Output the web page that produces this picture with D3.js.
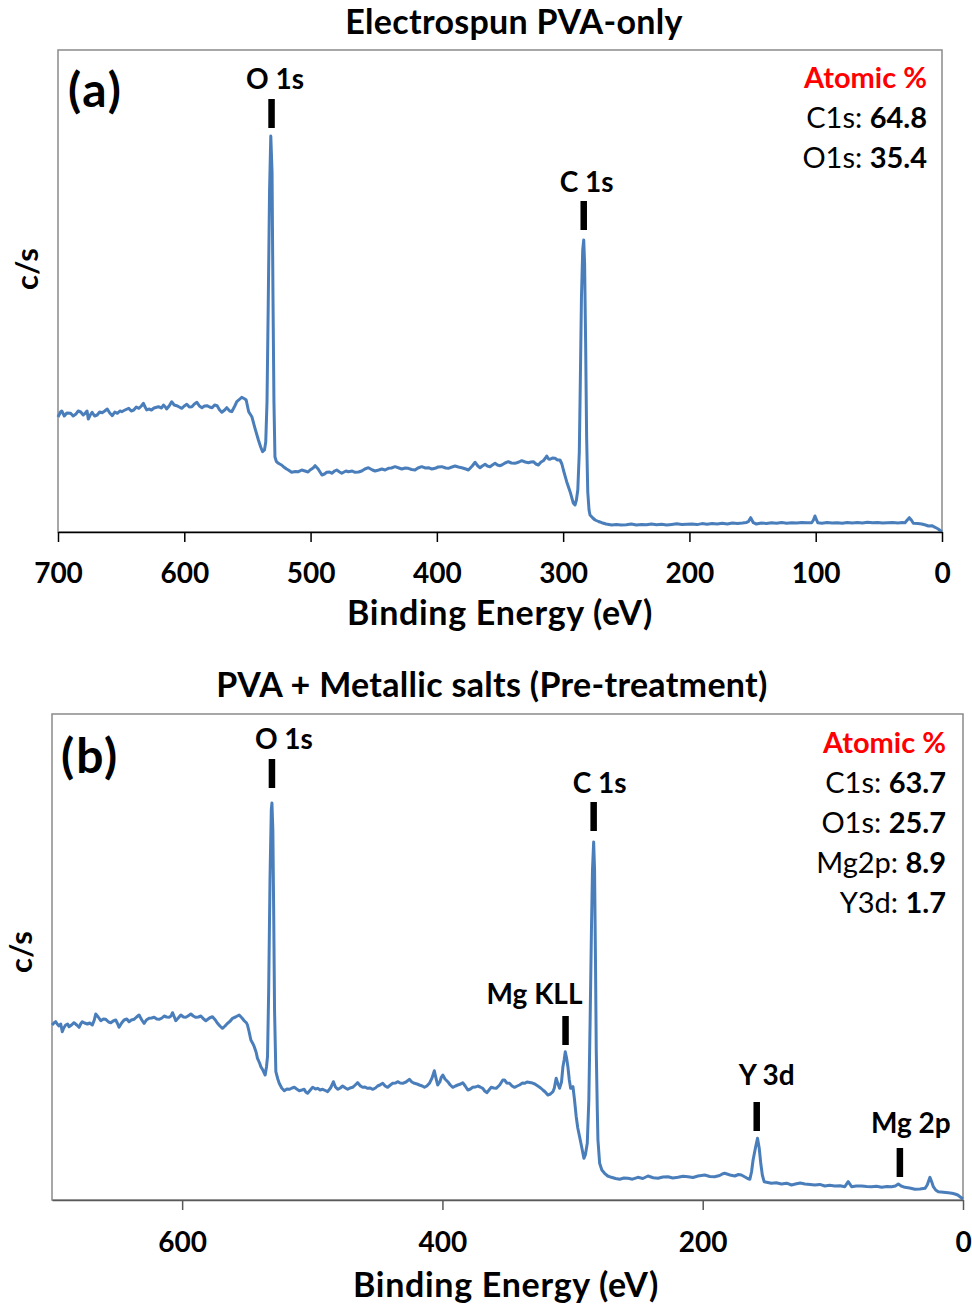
<!DOCTYPE html>
<html>
<head>
<meta charset="utf-8">
<script src="https://cdn.jsdelivr.net/npm/d3@7"></script>
<style>
  html, body { margin: 0; background: #fff; }
  text { font-family: Lato, "Open Sans", sans-serif; }
</style>
</head>
<body>
<svg id="fig" width="972" height="1309"></svg>
<script>
// ---- Survey spectrum, electrospun PVA only: [binding energy (eV), counts (arb.)]
const pvaSpectrum = [
  [700,115],[698,120],[697,121],[695,116],[693,119],[690,118.7],[688,116],[686,117.7],[684,121],[682,120],
  [680,117],[678.5,118.7],[677,121],[676,113],[674.5,117],[673,119.7],[671,116],[669,117],[667,120],[665,119.3],
  [663,121],[661,123],[659,119],[657,116.3],[655,120],[653,118.7],[651,121],[649.5,120.3],[647,122],[644,123.7],
  [642,121],[640,122],[638,125],[636,123.7],[634,126],[632.4,128.7],[631,125],[629.7,122],[628,123],[626,122],
  [624,124],[620.5,125.3],[618,124],[616.5,127],[615,125],[614,123],[612,126],[610,130.3],[608,127],[606,126.3],
  [604,125],[602,123.7],[600,126],[598,127.7],[596,125],[594,125.3],[592,128],[590,129.7],[588,126],[586,124.3],
  [584,126],[582,126.3],[580,125],[578,124.3],[576,127],[574,126.3],[572,122],[570.3,119.7],[568,122],[566.4,124.3],
  [564,121],[562.4,120.3],[560,126],[558.4,130.3],[556,133],[554.5,134.7],[552,133],[551,132],[549,120.3],[546.5,115.3],
  [544,103.7],[541.3,92],[539.5,85],[538,80.3],[536.5,82],[535.5,90],[534.5,130],[533.5,230],[532.5,340],[531.5,396],
  [530.5,360],[529.8,240],[529,130],[528.2,75],[527,70.3],[525.5,68.7],[523,67],[521.5,65.3],[519,63],[517.6,62],
  [515,59.7],[512,60.5],[509.6,60.3],[507,62],[504.4,61],[502,60],[500.4,62],[498,64],[496.4,66.3],[494,63],
  [492.5,60],[491,57],[489,58],[487.2,59.7],[485,60],[483.2,58.7],[481,61],[479.3,62],[477,60],[475.3,58.7],
  [472,61],[470,60.3],[467,61],[464.8,59.7],[462,60],[459.5,61],[457,63],[454.2,64.3],[451,62],[448.9,61],
  [446,62],[443.6,63],[441,62],[438.4,63.7],[436,64],[433.1,65.3],[430,64],[427.8,63],[425,64],[422.6,63.7],
  [420,62.5],[417.3,62],[415,64],[412,65.3],[409,64],[406.7,64.3],[404,63],[401.4,63.7],[399,65],[396.1,65.3],
  [393,64],[390.9,63.7],[388,65],[385.6,66],[383,65],[380.3,64.3],[377,63],[375,62],[372,66],[369.7,69.7],
  [367.5,66],[365.8,64.3],[364,66],[361.8,67.7],[360,66],[357.9,65.3],[356,67],[353.9,68.7],[352,67],[349.9,66.3],
  [348.6,67],[346,69],[343.4,70.3],[341,69],[338.1,68.7],[335,70],[332.8,71.3],[330,70],[327.5,69.3],[325.5,70],
  [323.6,70.3],[321.5,68],[319.6,67],[317.5,70],[315.7,71.3],[314,74],[313,76],[311.5,73],[310.4,72.7],[308.5,74],
  [306.4,73.7],[304.5,72],[302.5,72],[301,68],[299.8,62],[297.2,50.3],[294.5,40.3],[291.9,28.7],[290.6,27],[289.5,32],
  [288.4,42],[287.2,80],[286.4,150],[285.5,235],[284.5,282],[283.7,292],[283,268],[282.2,190],[281.4,95],[280.5,40],
  [279.5,22],[278.7,17],[276.5,14],[274.7,12],[272,10.5],[269.4,9.3],[266,8],[261.5,7],[258,7.5],[254,7],
  [250,7.3],[246,8],[242,7],[238,7.5],[234,7.2],[230,8],[226,7.3],[222,7.8],[218,7],[214,7.6],
  [210,8.2],[206,7.5],[202,7.8],[198,8],[194,7.4],[190,8.4],[186,7.8],[182,8.5],[178,8],[174,8.8],
  [170,8],[166,9],[162,8.5],[158,9],[155,9.5],[153.4,10.3],[151.5,14.3],[149.4,9.3],[147,8],[143,9],
  [139,8.5],[135,9.2],[131,8.7],[127,9.5],[123,8.8],[119,9.3],[115,9],[111,9.6],[107,9.2],[103.2,9.3],
  [101.8,12],[100.6,16],[99.3,12],[98.4,9.3],[95,8.8],[91,9.5],[87,9],[83,9.3],[79,8.7],[75,9.6],
  [71,9],[67,9.4],[63,9],[59,9.8],[55,9.2],[51,9.5],[47,8.9],[43,9.3],[39,9.6],[35,9],
  [31.5,9.4],[29.3,9.3],[27.5,12],[25.9,14.3],[24.3,12],[22.7,8.7],[19,8.5],[16.1,8],[13,7],[10.8,6],
  [8,6.3],[5.5,4.7],[3,3],[1,1],[0,0]
];

// ---- Survey spectrum, PVA + metallic salts (pre-treatment)
const saltSpectrum = [
  [700,175],[698.5,177],[697.2,178.3],[696,176],[694.6,174],[693.3,176],[692.1,168.3],[691,172],[689.5,175],[688,176],
  [686.9,173.3],[685,175],[683.1,177.3],[681,175],[679.2,172.7],[678,176],[676.7,178.3],[675,177],[672.8,176],[671,177],
  [669,175],[667.5,180],[666.4,186],[664.5,183],[662.5,179.3],[660.5,181],[658.7,180.7],[656.5,178],[654.8,177.3],[653,179],
  [651,180],[649.5,176],[648.5,172.7],[646.5,177],[644.6,180],[642.5,181],[640.8,178.3],[639,180],[637,180.7],[635,183],
  [633.1,185],[631,180],[629.2,176.7],[627.5,180],[625.4,181.7],[623.5,182],[621.5,182.7],[619.5,181],[617.7,180.7],[615.5,182],
  [613.8,184],[612,183],[610,182.7],[608.5,184],[607.4,187.3],[606,183],[604.9,179.3],[603,182],[601,185],[599,183],
  [597.2,182.7],[595.5,184],[593.3,186],[591.5,184],[589.5,182.7],[587.5,183],[585.6,184],[583.5,181],[581.8,179.3],[579,182],
  [576.7,183.3],[574.5,180],[572.8,176.7],[571,174],[569,171.7],[567,174],[565.1,176.7],[563,179],[561.3,181.7],[559,183],
  [556.2,185],[554,182],[552.3,179.3],[550.5,177],[549.8,175],[548.5,168],[547.2,160],[545.5,156],[544.6,153.3],[543.2,148],
  [542.1,141.7],[540.5,137],[539.5,133.3],[538,130],[536.2,125],[535.2,133],[534.4,143.3],[533.5,210],[532.5,320],[531.5,390],
  [531,397],[530.3,370],[529.6,280],[529,190],[528,128.3],[526.5,121],[525.4,116.7],[523.5,112],[521.5,109.3],[519.5,111],
  [517.7,110.7],[515.5,112],[513.8,112.7],[512,111],[510,109.3],[508,110],[506.2,110.7],[505,108],[503.6,106.7],[501.5,110],
  [499.7,112.7],[497.5,111],[495.9,111.7],[494,110],[492,110.7],[490,109.5],[488.2,108.3],[486,112],[484.5,116],[483.8,118.3],
  [482.2,113],[480.5,110.7],[478.5,112],[476.7,114],[474.5,112],[472.8,110.7],[471,112],[469,112.7],[467,115],[465.1,117.3],
  [463,114],[461.3,112.7],[459.5,113],[457.5,111.7],[455.5,112],[453.6,110.7],[451.5,112],[449.8,114],[448,115],[445.9,116.7],
  [444,114],[442.1,112.7],[440,115],[438.2,116.7],[436,117],[434.4,118.3],[432.5,117],[430.5,116.7],[428,118],[425.4,120.7],
  [423.5,118],[421.5,116.7],[419.5,116],[417.7,115],[415.5,114],[413.8,112.7],[412,114],[410,116.7],[408,122],[406.2,129.3],
  [405,122],[403.6,115],[402,118],[400.8,123],[399.7,125],[398,121],[395.9,118.3],[394,115],[392,112.7],[390,114],
  [388.2,115],[386,116],[384.4,117.3],[382.5,114],[380.5,110],[378.5,111],[376.7,112.7],[374.5,113],[372.8,114],[371,113],
  [369,111.7],[367.5,109],[365.9,107.3],[364.2,110],[362.6,112.7],[360.5,112],[358.7,111.7],[356,115],[353.6,120],[352.3,120],
  [350.5,117],[348.5,116.7],[346.5,114],[344.6,112.7],[342.5,114],[340.8,115],[338.5,117],[336.9,116.7],[335,118],[331.8,117.3],
  [329,116],[326.7,114],[324.5,112],[322.8,110],[321,108],[319,105],[317,106],[315.1,108.3],[314,112],[312.6,121.7],
  [311.2,116],[310,111.7],[308.5,118],[307.4,133.3],[306.5,140],[305.6,148.3],[304.6,142],[303.6,133.3],[302.5,120],[301.5,111.7],
  [300.5,112],[299.7,113.3],[298.5,100],[297.2,83.3],[296,72],[294.6,63.3],[293,53],[291.3,41.7],[290.2,45],[288.7,56.7],
  [287.5,100],[286.5,180],[285.5,270],[284.7,330],[283.8,358],[283.1,330],[282.4,240],[281.8,150],[281,90],[280.5,60],
  [279.2,36.7],[277.5,30],[275.4,26.7],[273,24],[270.2,22.7],[267,21.5],[263.8,20.7],[260.5,22],[257.4,21.7],[254,20.8],
  [249.8,22.7],[246,21.5],[242.1,24],[238,22.3],[234.4,21.7],[230.5,23],[226.7,23.3],[223,22],[219,22.7],[215,23.8],
  [211.3,23.3],[207.5,22.5],[203.6,24],[201,24.5],[198.5,25],[194.5,23.5],[190.8,23.3],[187,24.5],[185,26],[183.1,26.7],
  [179,25],[175.4,24],[172.5,25.5],[170.3,25],[167.5,23],[165.5,21.5],[163.8,20.7],[162.5,28],[161.3,40],[159.5,52],
  [157.9,61.7],[156.6,52],[155.4,36.7],[154.2,25],[152.8,18.3],[150,17.5],[147.2,16.7],[143.5,17.2],[139.5,16],[135.5,16.8],
  [131.8,15],[128,16.2],[125,17],[121.5,16],[117.5,15.5],[113.8,15],[110,15.6],[106.2,14],[102.5,14.8],[98.5,14],
  [94.5,14.3],[90.8,13.3],[88.2,18.3],[85.6,13.3],[82,14],[77.9,14],[74,13.5],[70.2,13.3],[66.5,13.8],[62.5,12.7],
  [58.5,13.5],[54.8,13.3],[52,14],[49.7,16],[47.5,14],[44.6,12.7],[41,12],[36.9,10.7],[33,11],[29.2,11.7],
  [27.5,15],[25.4,22.7],[24,18],[22.8,13.3],[21,10],[19,8.3],[15,7.8],[11.3,7.3],[8.5,6.8],[6.2,6],
  [4,5],[2.3,3.3],[0,1]
];

// ---- Axis ticks and text
const pvaTicks = [700, 600, 500, 400, 300, 200, 100, 0];
const saltTicks = [600, 400, 200, 0];
const panelTitles = ["Electrospun PVA-only", "PVA + Metallic salts (Pre-treatment)"];
const panelTags = ["(a)", "(b)"];
const xAxisTitle = "Binding Energy (eV)";
const yAxisTitle = "c/s";
const atomicHeading = "Atomic %";

// ---- Peak assignments: label, binding energy (eV), counts level at the foot of the marker
const pvaPeaks = [
  { label: "O 1s", energy: 530.9, level: 404 },
  { label: "C 1s", energy: 283.7, level: 302 }
];
const saltPeaks = [
  { label: "O 1s",   energy: 531.0, level: 412 },
  { label: "C 1s",   energy: 283.8, level: 369 },
  { label: "Mg KLL", energy: 305.4, level: 155 },
  { label: "Y 3d",   energy: 158.5, level: 69 },
  { label: "Mg 2p",  energy: 48.5,  level: 23 }
];

// ---- Surface composition (atomic %)
const pvaAtomic = [["C1s", "64.8"], ["O1s", "35.4"]];
const saltAtomic = [["C1s", "63.7"], ["O1s", "25.7"], ["Mg2p", "8.9"], ["Y3d", "1.7"]];

// ---- Layout of each panel (pixels)
const panels = [
  {
    spectrum: pvaSpectrum, ticks: pvaTicks, peaks: pvaPeaks, atomic: pvaAtomic,
    title: panelTitles[0], tag: panelTags[0],
    left: 58, right: 942, top: 50, bottom: 532, countsMax: 482,
    titleX: 514, titleY: 34, tagX: 68, tagY: 107, yTitleX: 38, yTitleY: 269,
    xTitleX: 500, xTitleY: 625, tickLabelOffset: 51,
    atomicX: 927, atomicY: 88, axisColor: "#000",
    labelDx: [3.5, 3], labelGap: [10, 9]
  },
  {
    spectrum: saltSpectrum, ticks: saltTicks, peaks: saltPeaks, atomic: saltAtomic,
    title: panelTitles[1], tag: panelTags[1],
    left: 52, right: 963, top: 714, bottom: 1200, countsMax: 486,
    titleX: 492, titleY: 697, tagX: 61, tagY: 773, yTitleX: 32, yTitleY: 952,
    xTitleX: 506, xTitleY: 1297, tickLabelOffset: 52,
    atomicX: 946, atomicY: 753, axisColor: "#595959",
    labelDx: [12, 6, -31, 10, 11], labelGap: [10, 9, 12, 17, 15]
  }
];

const svg = d3.select("#fig");
const lineColor = "#4a7ebb";
const frameColor = "#8a8a8a";

panels.forEach((p, i) => {
  const g = svg.append("g").attr("class", "panel-" + i);

  const x = d3.scaleLinear().domain([700, 0]).range([p.left, p.right]);
  const y = d3.scaleLinear().domain([0, p.countsMax]).range([p.bottom, p.top]);

  // plot frame
  g.append("rect")
    .attr("x", p.left).attr("y", p.top)
    .attr("width", p.right - p.left).attr("height", p.bottom - p.top)
    .attr("fill", "none").attr("stroke", frameColor).attr("stroke-width", 1.5);

  // spectrum trace
  const line = d3.line().x(d => x(d[0])).y(d => y(d[1]));
  g.append("path")
    .datum(p.spectrum)
    .attr("d", line)
    .attr("fill", "none")
    .attr("stroke", lineColor)
    .attr("stroke-width", 3)
    .attr("stroke-linejoin", "round");

  // x axis
  const axis = d3.axisBottom(x).tickValues(p.ticks).tickSize(10).tickSizeOuter(0).tickFormat(d3.format("d"));
  const ax = g.append("g").attr("transform", `translate(0,${p.bottom})`).call(axis);
  ax.select(".domain").attr("stroke", p.axisColor).attr("stroke-width", 1.5);
  ax.selectAll(".tick line").attr("stroke", p.axisColor).attr("stroke-width", 1.5);
  ax.selectAll(".tick text")
    .attr("y", p.tickLabelOffset).attr("dy", null)
    .attr("fill", "#000")
    .style("font-family", "Lato, 'Open Sans', sans-serif")
    .style("font-size", "28px").style("font-weight", "bold");

  // titles
  g.append("text").attr("x", p.titleX).attr("y", p.titleY)
    .attr("text-anchor", "middle").style("font-size", "34px").style("font-weight", "bold")
    .style("letter-spacing", "0.3px")
    .text(p.title);
  g.append("text").attr("x", p.tagX).attr("y", p.tagY)
    .style("font-size", "48px").style("font-weight", "bold").style("letter-spacing", "2px")
    .text(p.tag);
  g.append("text").attr("x", p.xTitleX).attr("y", p.xTitleY)
    .attr("text-anchor", "middle").style("font-size", "34px").style("font-weight", "bold")
    .style("letter-spacing", "0.7px")
    .text(xAxisTitle);
  g.append("text")
    .attr("transform", `translate(${p.yTitleX},${p.yTitleY}) rotate(-90)`)
    .attr("text-anchor", "middle").style("font-size", "31px").style("font-weight", "bold")
    .text(yAxisTitle);

  // peak markers and labels
  const barH = 29, barW = 6.5;
  const pk = g.selectAll(".peak").data(p.peaks).join("g").attr("class", "peak");
  pk.append("rect")
    .attr("x", d => x(d.energy) - barW / 2)
    .attr("y", d => y(d.level) - barH)
    .attr("width", barW).attr("height", barH)
    .attr("fill", "#000");
  pk.append("text")
    .attr("x", (d, j) => x(d.energy) + p.labelDx[j])
    .attr("y", (d, j) => y(d.level) - barH - p.labelGap[j])
    .attr("text-anchor", "middle")
    .style("font-size", "28px").style("font-weight", "bold")
    .text(d => d.label);

  // atomic composition block
  const comp = g.append("g").attr("text-anchor", "end");
  comp.append("text").attr("x", p.atomicX).attr("y", p.atomicY)
    .attr("fill", "#ff0000").style("font-size", "29px").style("font-weight", "bold")
    .text(atomicHeading);
  p.atomic.forEach((row, j) => {
    const t = comp.append("text").attr("x", p.atomicX).attr("y", p.atomicY + 40 * (j + 1))
      .style("font-size", "29px");
    t.append("tspan").text(row[0] + ": ");
    t.append("tspan").style("font-weight", "bold").text(row[1]);
  });
});
</script>
</body>
</html>
